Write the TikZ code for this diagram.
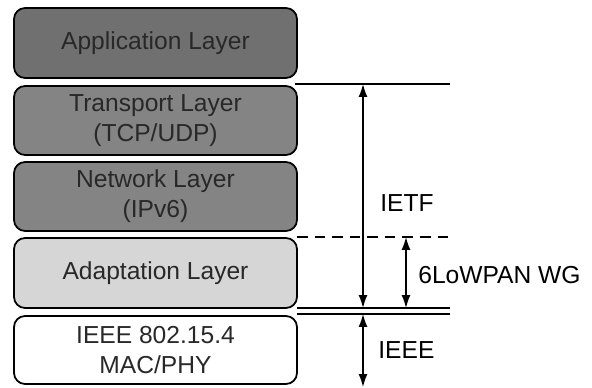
\documentclass[tikz,border=0pt]{standalone}
\usepackage{fontspec}
\setmainfont{Liberation Sans}
\usepackage{tikz}
\usetikzlibrary{shapes, arrows, calc, positioning,arrows.meta}
\definecolor{xAppBox}{RGB}{112,112,112}
\definecolor{xNetBox}{RGB}{132,132,132}
\definecolor{xAdaptBox}{RGB}{214,214,214}
\definecolor{xText}{RGB}{40,40,40}

\tikzset{
  layer/.style={draw, line width=1pt, rounded corners=0.22cm, minimum width=5.66cm,
    align=center, font=\fontsize{14}{17}\selectfont, text=xText, inner sep=0pt},
  rule/.style={line width=0.8pt},
  span/.style={line width=0.8pt, {Latex[length=2.6mm,width=1.8mm]}-{Latex[length=2.6mm,width=1.8mm]}},
  tag/.style={anchor=west, font=\fontsize{14}{17}\selectfont, inner sep=0pt}
}

\begin{document}
\begin{tikzpicture}[x=0.02cm, y=-0.02cm]
    \useasboundingbox (0,0) rectangle (592,388);

    % the protocol stack
    \node[layer, fill=xAppBox, minimum height=1.4cm] (app) at (155.5,43) {Application Layer};
    \node[layer, fill=xNetBox, minimum height=1.38cm] (transport) at (155.5,120.5) {Transport Layer\\(TCP/UDP)};
    \node[layer, fill=xNetBox, minimum height=1.38cm] (network) at (155.5,196.5) {Network Layer\\(IPv6)};
    \node[layer, fill=xAdaptBox, minimum height=1.4cm] (adapt) at (155.5,273) {Adaptation Layer};
    \node[layer, fill=white, minimum height=1.36cm] (ieee) at (155.5,350) {IEEE 802.15.4\\MAC/PHY};

    % boundary rules
    \coordinate (ietfL) at (295,84);   \coordinate (ietfR) at (450,84);
    \coordinate (wgL) at (297,237);    \coordinate (wgR) at (450,237);
    \coordinate (adaptL) at (297,308); \coordinate (adaptR) at (450,308);
    \coordinate (ieeeL) at (297,314);  \coordinate (ieeeR) at (450,314);
    \draw[rule] (ietfL) -- (ietfR);
    \draw[rule, dashed, dash pattern=on 6pt off 4pt] (wgL) -- (wgR);
    \draw[rule] (adaptL) -- (adaptR);
    \draw[rule] (ieeeL) -- (ieeeR);

    % spans
    \coordinate (ietfTop) at (363,84);  \coordinate (ietfBot) at (363,308);
    \coordinate (wgTop) at (406,237);   \coordinate (wgBot) at (406,308);
    \coordinate (ieeeTop) at (363,314); \coordinate (ieeeBot) at (363,387);
    \draw[span] (ietfTop) -- (ietfBot);
    \draw[span] (wgTop) -- (wgBot);
    \draw[span] (ieeeTop) -- (ieeeBot);

    \node[tag] (ietf) at (380,203) {IETF};
    \node[tag] (wg) at (418,275) {6LoWPAN WG};
    \node[tag] (ieeeTag) at (378,350) {IEEE};
\end{tikzpicture}
\end{document}
